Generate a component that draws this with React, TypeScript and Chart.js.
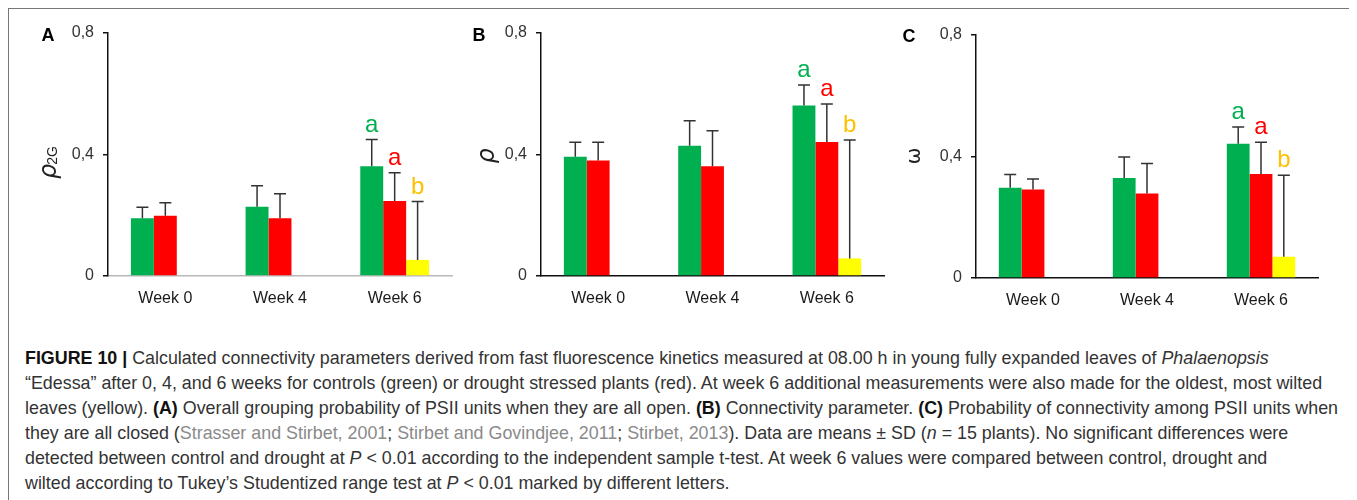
import React, { useEffect, useLayoutEffect, useRef } from "react";
import { Chart, registerables } from "chart.js";
Chart.register(...registerables);

// ---------- data ----------
const weeks = ["Week 0", "Week 4", "Week 6"];
const yTickValues = [0, 0.4, 0.8];
const yTickLabels = ["0", "0,4", "0,8"];
const seriesNames = ["Control", "Drought", "Wilted"];
const week6Letters = ["a", "a", "b"];

// Panel A: rho_2G
const aControl = [0.19, 0.228, 0.361];
const aControlSd = [0.036, 0.069, 0.088];
const aDrought = [0.198, 0.19, 0.247];
const aDroughtSd = [0.043, 0.081, 0.093];
const aWilted = [null, null, 0.053];
const aWiltedSd = [null, null, 0.192];

// Panel B: rho
const bControl = [0.393, 0.429, 0.561];
const bControlSd = [0.047, 0.082, 0.068];
const bDrought = [0.38, 0.361, 0.441];
const bDroughtSd = [0.06, 0.117, 0.125];
const bWilted = [null, null, 0.058];
const bWiltedSd = [null, null, 0.39];

// Panel C: omega
const cControl = [0.297, 0.329, 0.442];
const cControlSd = [0.044, 0.069, 0.055];
const cDrought = [0.291, 0.278, 0.342];
const cDroughtSd = [0.035, 0.099, 0.105];
const cWilted = [null, null, 0.07];
const cWiltedSd = [null, null, 0.268];

// ---------- styles ----------
const barColors = ["#00B050", "#FF0000", "#FFFF00"];
const letterColors = ["#00B050", "#FF0000", "#FFC000"];
const CAPTION_TARGET_WIDTH = 1313;

type PanelCfg = {
  letter: string;
  title: "rho2G" | "rho" | "omega";
  means: (number | null)[][];
  sds: (number | null)[][];
  w: number;
  h: number;
  left: number;
  right: number;
  top: number;
  bottom: number;
  xAxisColor: string;
  letterPos: [number, number];
  titlePos: [number, number];
};

function makeOverlay(p: PanelCfg) {
  return {
    id: "overlay" + p.letter,
    afterDatasetsDraw(chart: any) {
      const ctx = chart.ctx as CanvasRenderingContext2D;
      const ys = chart.scales.y;
      p.sds.forEach((sdArr, di) => {
        const meta = chart.getDatasetMeta(di);
        meta.data.forEach((el: any, i: number) => {
          const v = p.means[di][i];
          const sd = sdArr[i];
          if (v == null || sd == null) return;
          const topPx = ys.getPixelForValue(v + sd);
          ctx.save();
          ctx.strokeStyle = "#333";
          ctx.lineWidth = 1.5;
          ctx.beginPath();
          ctx.moveTo(el.x, el.y);
          ctx.lineTo(el.x, topPx);
          ctx.moveTo(el.x - 6, topPx);
          ctx.lineTo(el.x + 6, topPx);
          ctx.stroke();
          if (i === 2) {
            ctx.fillStyle = letterColors[di];
            ctx.font = "24px 'Liberation Sans', Arial, sans-serif";
            ctx.textAlign = "center";
            ctx.textBaseline = "alphabetic";
            ctx.fillText(week6Letters[di], el.x, topPx - 8);
          }
          ctx.restore();
        });
      });
      ctx.save();
      ctx.fillStyle = "#000";
      ctx.font = "bold 18px 'Liberation Sans', Arial, sans-serif";
      ctx.textAlign = "center";
      ctx.textBaseline = "middle";
      ctx.fillText(p.letter, p.letterPos[0], p.letterPos[1]);
      ctx.restore();
      ctx.save();
      ctx.translate(p.titlePos[0], p.titlePos[1]);
      ctx.rotate(-Math.PI / 2);
      ctx.fillStyle = "#222";
      ctx.textBaseline = "middle";
      ctx.textAlign = "left";
      if (p.title === "omega") {
        ctx.font = "20px 'DejaVu Sans', sans-serif";
        const w = ctx.measureText("ω").width;
        ctx.fillText("ω", -w / 2, 0);
      } else {
        const big = "italic 24px 'DejaVu Sans', sans-serif";
        const small = "14px 'Liberation Sans', Arial, sans-serif";
        ctx.font = big;
        const w1 = ctx.measureText("ρ").width;
        let w2 = 0;
        if (p.title === "rho2G") {
          ctx.font = small;
          w2 = ctx.measureText("2G").width;
        }
        const x0 = -(w1 + w2) / 2;
        ctx.font = big;
        ctx.fillText("ρ", x0, 0);
        if (p.title === "rho2G") {
          ctx.font = small;
          ctx.fillText("2G", x0 + w1 - 1, 3);
        }
      }
      ctx.restore();
    },
  };
}

const panels: PanelCfg[] = [
  {
    letter: "A",
    title: "rho2G",
    means: [aControl, aDrought, aWilted],
    sds: [aControlSd, aDroughtSd, aWiltedSd],
    w: 450,
    h: 312,
    left: 100,
    right: 444,
    top: 25,
    bottom: 268,
    xAxisColor: "#b8b8b8",
    letterPos: [40, 28],
    titlePos: [42, 154],
  },
  {
    letter: "B",
    title: "rho",
    means: [bControl, bDrought, bWilted],
    sds: [bControlSd, bDroughtSd, bWiltedSd],
    w: 435,
    h: 312,
    left: 83,
    right: 426,
    top: 25,
    bottom: 268,
    xAxisColor: "#111",
    letterPos: [21, 28],
    titlePos: [30, 148],
  },
  {
    letter: "C",
    title: "omega",
    means: [cControl, cDrought, cWilted],
    sds: [cControlSd, cDroughtSd, cWiltedSd],
    w: 457,
    h: 312,
    left: 83,
    right: 425,
    top: 27,
    bottom: 270,
    xAxisColor: "#111",
    letterPos: [16, 29],
    titlePos: [22, 148],
  },
];
const panelX = [0, 450, 885];

const captionLines: [string, string][][] = [
  [
    ["FIGURE 10 | ", "b"],
    ["Calculated connectivity parameters derived from fast fluorescence kinetics measured at 08.00 h in young fully expanded leaves of ", "n"],
    ["Phalaenopsis", "i"],
  ],
  [["“Edessa” after 0, 4, and 6 weeks for controls (green) or drought stressed plants (red). At week 6 additional measurements were also made for the oldest, most wilted", "n"]],
  [
    ["leaves (yellow). ", "n"],
    ["(A)", "b"],
    [" Overall grouping probability of PSII units when they are all open. ", "n"],
    ["(B)", "b"],
    [" Connectivity parameter. ", "n"],
    ["(C)", "b"],
    [" Probability of connectivity among PSII units when", "n"],
  ],
  [
    ["they are all closed (", "n"],
    ["Strasser and Stirbet, 2001", "g"],
    ["; ", "n"],
    ["Stirbet and Govindjee, 2011", "g"],
    ["; ", "n"],
    ["Stirbet, 2013", "g"],
    ["). Data are means ± SD (", "n"],
    ["n", "i"],
    [" = 15 plants). No significant differences were", "n"],
  ],
  [
    ["detected between control and drought at ", "n"],
    ["P", "i"],
    [" < 0.01 according to the independent sample t-test. At week 6 values were compared between control, drought and", "n"],
  ],
  [
    ["wilted according to Tukey’s Studentized range test at ", "n"],
    ["P", "i"],
    [" < 0.01 marked by different letters.", "n"],
  ],
];

function segStyle(s: string): React.CSSProperties {
  if (s === "b") return { fontWeight: "bold", color: "#111" };
  if (s === "i") return { fontStyle: "italic" };
  if (s === "g") return { color: "#8a8a8a" };
  return {};
}

export default function App() {
  const refs = [useRef<HTMLCanvasElement>(null), useRef<HTMLCanvasElement>(null), useRef<HTMLCanvasElement>(null)];
  const capRef = useRef<HTMLDivElement>(null);

  useLayoutEffect(() => {
    const el = capRef.current;
    if (!el) return;
    let maxW = 0;
    Array.from(el.querySelectorAll("span.capline")).forEach((n) => {
      maxW = Math.max(maxW, (n as HTMLElement).getBoundingClientRect().width);
    });
    if (maxW > 0) el.style.transform = `scaleX(${CAPTION_TARGET_WIDTH / maxW})`;
  }, []);

  useEffect(() => {
    const charts = panels.map((p, k) => {
      const canvas = refs[k].current!;
      return new Chart(canvas, {
        type: "bar",
        data: {
          labels: weeks,
          datasets: p.means.map((m, di) => ({
            label: seriesNames[di],
            data: m as any,
            backgroundColor: barColors[di],
            borderWidth: 0,
            categoryPercentage: 0.6,
            barPercentage: 1.0,
          })),
        },
        options: {
          animation: false,
          responsive: false,
          maintainAspectRatio: false,
          devicePixelRatio: 1,
          layout: { padding: { left: 0, top: p.top, right: p.w - p.right, bottom: 0 } },
          plugins: { legend: { display: false }, tooltip: { enabled: false }, title: { display: false } },
          scales: {
            x: {
              grid: { display: false, drawTicks: false },
              border: { display: true, color: p.xAxisColor, width: 1.5 },
              ticks: {
                color: "#1a1a1a",
                font: { family: "'Liberation Sans', Arial, sans-serif", size: 16 },
                padding: 13,
                maxRotation: 0,
              },
              afterFit: (s: any) => {
                s.height = p.h - p.bottom;
              },
            },
            y: {
              min: 0,
              max: 0.8,
              afterBuildTicks: (s: any) => {
                s.ticks = yTickValues.map((v) => ({ value: v }));
              },
              grid: { display: true, drawOnChartArea: false, drawTicks: true, tickLength: 5, color: "#111", lineWidth: 1.5 },
              border: { display: true, color: "#111", width: 1.5 },
              ticks: {
                color: "#333",
                font: { family: "'Liberation Sans', Arial, sans-serif", size: 16 },
                padding: 9,
                callback: (_v: any, i: number) => yTickLabels[i],
              },
              afterFit: (s: any) => {
                s.width = p.left;
              },
            },
          },
        },
        plugins: [makeOverlay(p)],
      });
    });
    return () => charts.forEach((c) => c.destroy());
  }, []);

  return (
    <div style={{ position: "relative", width: 1349, height: 492, overflow: "hidden" }}>
      <div
        style={{
          position: "absolute",
          left: 0,
          top: 0,
          width: 1348,
          height: 560,
          border: "1px solid #777",
          boxSizing: "border-box",
        }}
      />
      {panels.map((p, k) => (
        <canvas
          key={p.letter}
          ref={refs[k]}
          width={p.w}
          height={p.h}
          style={{ position: "absolute", left: panelX[k], top: 0, width: p.w, height: p.h }}
        />
      ))}
      <div
        ref={capRef}
        style={{
          position: "absolute",
          left: 17,
          top: 337,
          fontFamily: "'Liberation Sans', Arial, sans-serif",
          fontSize: 18.5,
          lineHeight: "25px",
          color: "#333",
          transformOrigin: "0 0",
        }}
      >
        {captionLines.map((line, li) => (
          <div key={li} style={{ whiteSpace: "nowrap" }}>
            <span className="capline">
              {line.map(([t, s], si) => (
                <span key={si} style={segStyle(s)}>
                  {t}
                </span>
              ))}
            </span>
          </div>
        ))}
      </div>
    </div>
  );
}
